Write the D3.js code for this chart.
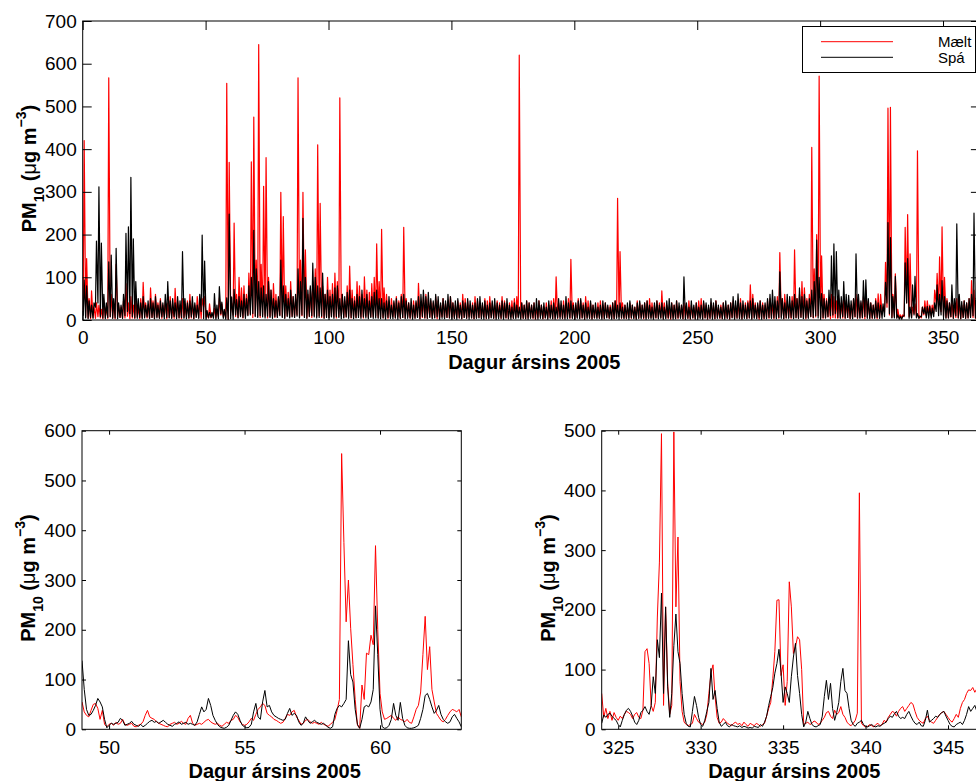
<!DOCTYPE html>
<html>
<head>
<meta charset="utf-8">
<script src="https://cdn.jsdelivr.net/npm/d3@7"></script>
<style>
  body { margin: 0; background: #fff; }
  svg { display: block; font-family: "Liberation Sans", Arial, Helvetica, sans-serif; }
</style>
</head>
<body>
<svg width="976" height="781"></svg>
<script>
// Ársyfirlit: dagleg hámörk (Hi) og lággildi (Lo), dagar 0..364
const maeltHi = [
  420,144,50,68,30,40,35,25,45,30, 567,60,40,130,35,30,45,85,40,55,
  35,45,30,50,88,40,35,75,45,60, 40,50,35,45,40,55,30,74,45,35,
  50,30,45,60,40,35,55,45,50,55, 12,38,14,28,24,52,38,20,554,369,
  40,227,60,100,75,80,60,110,370,475, 140,645,130,313,380,100,70,85,60,50,
  299,242,80,65,90,55,50,567,140,299, 164,60,75,90,120,410,273,80,60,100,
  70,85,110,90,520,60,45,80,126,70, 55,90,80,60,101,70,65,85,100,178,
  90,212,75,60,45,50,40,55,45,60, 217,50,40,35,45,40,86,40,55,60,
  50,45,40,55,45,35,50,40,45,55, 40,35,45,40,60,50,45,35,40,55,
  45,40,35,50,45,55,40,35,45,40, 55,45,35,40,45,50,55,620,40,35,
  45,40,35,40,30,45,35,30,40,35, 45,50,101,40,35,45,35,50,142,40,
  35,50,45,40,55,45,40,35,30,40, 45,35,40,30,35,40,45,285,160,40,
  35,30,40,35,30,45,40,35,40,45, 50,40,35,45,40,68,40,35,30,40,
  35,45,30,35,40,30,45,35,30,40, 45,50,40,35,30,40,35,45,30,35,
  40,30,35,40,45,35,40,50,35,40, 45,82,60,40,35,45,40,35,45,50,
  40,45,55,158,50,60,45,40,55,164, 50,60,90,75,50,60,404,120,200,571,
  150,60,50,45,60,55,45,50,40,55, 45,40,35,50,60,45,40,55,70,45,
  40,35,50,61,60,30,135,496,498,60, 108,25,12,12,217,247,155,30,38,396,
  10,30,45,45,35,35,70,109,148,218, 100,50,40,45,35,50,40,35,45,40,
  50,92,70,45,50
];
const maeltLo = [
  20,8,5,3,6,4,8,5,3,6, 4,7,5,3,8,6,4,5,9,3,
  5,4,7,3,6,8,5,4,6,3, 7,5,4,8,3,6,5,4,7,5,
  3,6,8,4,5,3,7,5,4,30, 8,5,5,8,5,8,12,8,5,2,
  18,12,8,6,10,5,8,12,15,6, 10,8,6,12,9,5,8,10,6,7,
  12,8,5,10,7,9,6,12,8,10, 7,5,9,6,11,8,10,6,5,8,
  6,9,7,5,8,10,6,7,9,5, 8,6,10,7,5,9,6,8,7,10,
  6,8,5,7,4,6,8,5,7,4, 6,5,8,4,6,5,7,3,6,5,
  4,7,5,6,3,5,8,4,6,5, 7,4,6,5,3,6,4,7,5,3,
  5,6,4,7,3,5,6,4,5,7, 4,6,5,3,7,4,6,8,5,4,
  3,5,6,4,2,5,7,3,5,4, 6,3,5,4,7,3,5,6,4,5,
  3,6,4,5,2,6,4,3,5,6, 4,5,3,6,4,5,3,6,8,4,
  5,3,6,4,5,3,4,6,3,5, 4,6,3,5,4,6,3,5,4,2,
  5,3,4,6,3,5,4,2,5,3, 4,6,3,5,2,4,6,3,5,4,
  3,5,4,2,6,3,5,4,3,6, 4,5,3,6,4,2,5,3,6,4,
  5,3,6,4,7,3,5,6,4,5, 6,4,7,5,3,6,8,5,7,10,
  6,4,5,7,3,6,5,4,6,5, 4,6,3,5,7,4,6,5,3,6,
  5,4,6,3,5,15,18,30,12,6, 8,6,4,5,8,40,8,6,15,6,
  4,5,12,10,12,10,15,40,25,20, 10,6,5,7,4,6,5,3,6,4,
  5,8,6,4,5
];
const spaHi = [
  94,80,45,35,40,185,312,180,60,40, 136,152,50,168,40,35,60,203,218,334,
  190,90,50,40,55,35,45,50,40,55, 35,45,40,60,90,45,50,40,55,45,
  160,50,40,45,55,40,35,60,199,138, 22,18,18,62,35,78,42,25,52,248,
  54,72,48,55,45,60,50,80,100,210, 120,90,75,80,60,90,70,50,45,55,
  140,80,60,50,70,55,60,120,90,238, 100,70,80,133,100,80,75,110,60,70,
  55,60,75,80,50,60,55,65,70,50, 45,60,55,70,50,60,45,55,65,70,
  50,50,40,45,55,35,45,50,40,55, 60,45,40,50,35,45,55,60,70,55,
  65,50,45,60,55,40,50,45,60,55, 40,45,50,35,45,40,50,45,35,40,
  50,55,40,45,35,40,45,50,40,35, 45,40,50,35,30,40,35,30,40,35,
  45,40,35,40,50,45,35,40,30,45, 35,40,30,50,45,35,55,40,45,35,
  40,45,50,35,40,30,45,35,40,30, 35,45,40,35,30,40,45,35,40,30,
  35,40,45,35,30,40,45,35,40,45, 35,30,40,45,35,40,30,45,50,40,
  35,45,40,35,101,40,30,45,35,40, 30,35,45,40,35,50,40,45,35,30,
  40,45,35,40,55,45,61,40,45,35, 40,45,50,35,40,45,35,40,50,60,
  70,55,45,113,50,40,60,55,45,60, 50,75,55,60,45,50,70,90,187,100,
  62,50,45,70,150,178,160,70,55,90, 60,58,45,50,155,60,45,92,94,50,
  40,35,45,40,35,38,88,228,193,55, 102,12,8,8,134,144,30,82,102,15,
  8,30,30,32,32,28,40,82,60,92, 55,45,40,82,50,225,60,43,45,40,
  50,60,250,50,45
];
const spaLo = [
  10,5,3,6,4,30,40,8,5,3, 6,8,4,5,3,6,4,10,20,15,
  8,5,4,6,3,5,7,4,6,3, 5,4,7,3,6,5,4,8,3,5,
  6,4,3,5,7,3,6,4,20,3, 4,5,6,4,2,3,15,4,2,2,
  3,2,12,5,8,6,4,10,12,15, 8,6,10,7,5,9,6,4,8,6,
  10,6,4,8,5,7,6,9,5,12, 6,4,8,10,7,5,6,9,4,6,
  5,7,4,8,6,3,5,7,4,6, 3,5,6,4,7,5,3,6,4,5,
  4,3,5,2,6,4,3,5,2,4, 6,3,4,5,2,4,6,3,8,5,
  4,6,3,5,7,2,4,3,6,5, 3,4,2,5,3,6,4,2,5,3,
  4,5,3,2,4,3,5,4,2,3, 4,2,5,3,2,4,3,5,2,4,
  3,2,4,5,3,2,4,3,5,2, 4,3,2,5,3,4,2,3,5,4,
  2,4,3,5,2,3,4,2,5,3, 4,2,3,5,4,2,3,4,2,5,
  3,4,2,5,3,2,4,3,5,2, 4,3,2,5,3,4,2,3,5,4,
  2,3,5,4,3,2,4,3,5,2, 4,3,2,5,3,4,2,3,4,5,
  3,2,4,3,5,2,4,3,2,4, 3,5,2,4,3,5,2,4,3,6,
  4,5,3,6,4,3,5,4,6,3, 5,4,6,3,5,4,8,6,10,5,
  4,6,5,8,10,12,15,6,4,8, 5,6,4,3,8,5,4,6,8,4,
  3,5,4,6,4,4,8,40,15,5, 5,4,2,2,10,40,4,5,12,5,
  4,8,15,5,4,4,8,20,10,12, 6,4,5,8,4,10,5,3,6,4,
  5,6,10,5,4
];

// Dagar 49-63, tveggja tíma gildi
const leftStart = 49, leftStep = 1 / 12;
const spaLeft = [
  138,80,40,28,30,38,48,62,55,45,20,3,
  8,12,10,12,14,22,18,8,10,12,16,10,
  8,6,10,5,8,12,16,18,14,16,12,15,
  18,14,10,8,6,10,12,15,10,12,14,10,
  12,10,8,15,30,45,35,40,62,48,28,18,
  10,5,3,2,4,8,18,28,35,30,18,8,
  5,3,4,10,35,52,25,20,55,78,45,48,
  35,28,25,22,20,18,20,32,42,28,32,28,
  15,8,12,25,18,12,15,18,14,12,10,12,
  8,4,2,5,30,42,48,45,52,60,178,110,
  95,40,10,2,20,45,48,45,55,80,248,150,
  40,5,2,3,8,20,52,28,18,54,22,8,
  3,2,2,3,5,8,22,40,68,72,60,45,
  32,38,48,30,20,15,12,15,25,30,22,15,
  5
];
const maeltLeft = [
  55,35,28,25,38,50,52,42,20,38,10,5,
  10,12,8,14,10,12,20,10,8,10,12,6,
  5,8,10,15,28,38,25,22,20,15,12,10,
  8,6,5,10,12,14,10,12,16,12,10,22,
  28,12,8,10,12,10,14,18,20,15,12,10,
  12,8,6,10,14,12,18,20,28,24,15,10,
  8,10,15,22,18,30,40,45,52,48,32,28,
  25,20,18,15,12,14,22,30,28,35,38,25,
  18,10,12,18,20,15,12,14,12,10,14,10,
  8,6,10,14,20,38,60,554,375,216,300,203,
  130,60,8,2,89,60,153,150,189,170,369,200,
  72,35,20,22,25,28,22,18,25,20,18,15,
  20,14,12,25,40,48,75,150,227,120,166,80,
  55,32,25,18,15,20,28,35,40,38,35,40,
  25
];

// Dagar 324-347, þriggja tíma gildi
const rightStart = 324, rightStep = 1 / 8;
const spaRight = [
  10,24,20,25,27,22,18,15,
  8,4,15,25,32,35,30,22,
  12,8,15,28,32,38,30,25,
  40,88,60,150,120,228,60,205,
  71,20,60,140,193,130,110,60,
  25,10,5,4,30,55,40,20,
  8,5,15,30,45,102,50,65,
  35,12,5,8,12,6,4,8,
  6,5,4,6,3,5,4,2,
  3,2,5,4,3,8,5,12,
  22,40,55,70,94,110,134,95,
  45,71,60,45,88,121,144,90,
  60,25,4,12,30,18,8,5,
  4,6,8,22,55,82,50,77,
  35,15,28,45,80,102,65,60,
  35,15,8,5,10,12,15,8,
  5,4,6,8,5,4,6,5,
  8,10,12,18,22,20,26,30,
  22,18,20,18,25,30,22,15,
  10,8,12,6,5,15,32,12,
  15,18,22,20,25,28,30,22,
  15,8,5,4,8,10,12,8,
  15,25,38,30,35,40,30,28,
  25
];
const maeltRight = [
  60,20,35,18,30,15,28,20,
  15,22,18,25,30,28,25,18,
  25,28,20,18,32,130,135,110,
  40,30,45,188,280,495,40,205,
  77,25,40,498,205,322,80,30,
  12,8,6,8,10,25,18,12,
  10,8,12,25,60,94,108,55,
  20,10,12,18,14,10,8,6,
  10,12,8,10,6,12,8,5,
  10,8,6,10,8,5,8,10,
  22,35,45,85,130,216,217,90,
  108,40,80,247,205,127,138,155,
  150,100,8,10,12,8,10,14,
  12,8,10,15,20,28,30,22,
  18,32,25,28,38,25,20,12,
  8,6,10,15,27,396,10,6,
  4,5,8,6,4,8,10,6,
  8,15,12,20,25,30,28,22,
  30,35,38,30,35,40,45,42,
  30,20,15,12,10,18,22,15,
  12,10,15,20,25,28,30,25,
  20,15,12,18,25,20,35,45,
  50,60,66,65,70,62,68,60,
  58
];

const topXTicks = [0, 50, 100, 150, 200, 250, 300, 350];
const topYTicks = [0, 100, 200, 300, 400, 500, 600, 700];
const leftXTicks = [50, 55, 60];
const leftYTicks = [0, 100, 200, 300, 400, 500, 600];
const rightXTicks = [325, 330, 335, 340, 345];
const rightYTicks = [0, 100, 200, 300, 400, 500];
const legendLabels = ["Mælt", "Spá"];
const xLabel = "Dagur ársins 2005";

const svg = d3.select("svg");
let clipCount = 0;

// tvö gildi á dag: lággildi og hámark
function dailyPoints(hi, lo) {
  const pts = [];
  hi.forEach((v, d) => {
    pts.push([d + 0.2, lo[d]]);
    pts.push([d + 0.6, v]);
  });
  return pts;
}
function stepPoints(vals, start, step) {
  return vals.map((v, i) => [start + i * step, v]);
}

function drawPanel(o) {
  const x = d3.scaleLinear().domain(o.xDom).range([o.left, o.right]);
  const y = d3.scaleLinear().domain(o.yDom).range([o.bottom, o.top]);
  const g = svg.append("g");

  const id = "clip" + (clipCount++);
  svg.append("clipPath").attr("id", id)
    .append("rect")
    .attr("x", o.left).attr("y", o.top)
    .attr("width", o.right - o.left).attr("height", o.bottom - o.top);

  const line = d3.line().x(d => x(d[0])).y(d => y(d[1]));
  const lines = g.append("g").attr("clip-path", `url(#${id})`);
  o.series.forEach(s => {
    lines.append("path")
      .attr("d", line(s.pts))
      .attr("fill", "none")
      .attr("stroke", s.color)
      .attr("stroke-width", o.lineWidth)
      .attr("stroke-linejoin", "round");
  });

  const axes = [
    { ax: d3.axisBottom(x).tickValues(o.xTicks).tickPadding(11), tr: `translate(0,${o.bottom})`, labels: true },
    { ax: d3.axisTop(x).tickValues(o.xTicks), tr: `translate(0,${o.top})`, labels: false },
    { ax: d3.axisLeft(y).tickValues(o.yTicks).tickPadding(6), tr: `translate(${o.left},0)`, labels: true },
    { ax: d3.axisRight(y).tickValues(o.yTicks), tr: `translate(${o.right},0)`, labels: false }
  ];
  axes.forEach(a => {
    const ag = g.append("g").attr("transform", a.tr)
      .call(a.ax.tickSizeInner(-o.tick).tickSizeOuter(0));
    ag.select(".domain").remove();
    ag.attr("font-size", 19).attr("font-family", null);
    ag.selectAll("line").attr("stroke", "#000");
    if (!a.labels) ag.selectAll("text").remove();
    else ag.selectAll("text").attr("fill", "#000");
  });

  g.append("rect")
    .attr("x", o.left).attr("y", o.top)
    .attr("width", o.right - o.left).attr("height", o.bottom - o.top)
    .attr("fill", "none").attr("stroke", "#000").attr("stroke-width", 1);

  // x-ás titill
  g.append("text")
    .attr("x", (o.left + o.right) / 2 + 3)
    .attr("y", o.bottom + 49)
    .attr("text-anchor", "middle")
    .attr("font-size", 20).attr("font-weight", "bold")
    .text(xLabel);

  // y-ás titill: PM10 (µg m-3)
  const yl = g.append("text")
    .attr("transform", `translate(${o.left - 47},${(o.top + o.bottom) / 2 - 2}) rotate(-90)`)
    .attr("text-anchor", "middle")
    .attr("font-size", 20).attr("font-weight", "bold");
  yl.append("tspan").text("PM");
  yl.append("tspan").attr("font-size", 14).attr("dy", 8).text("10");
  yl.append("tspan").attr("dy", -8).text(" (");
  yl.append("tspan").attr("font-weight", "normal").text("\u03bc");
  yl.append("tspan").text("g m");
  yl.append("tspan").attr("font-size", 14).attr("dy", -10).text("\u22123");
  yl.append("tspan").attr("dy", 10).text(")");

  return { x, y, g };
}

drawPanel({
  left: 82.7, right: 979.9, top: 21, bottom: 320,
  xDom: [0, 365], yDom: [0, 700],
  xTicks: topXTicks, yTicks: topYTicks, tick: 9, lineWidth: 1.2,
  series: [
    { pts: dailyPoints(maeltHi, maeltLo), color: "#ff0000" },
    { pts: dailyPoints(spaHi, spaLo), color: "#000000" }
  ]
});

drawPanel({
  left: 82, right: 461.3, top: 430.7, bottom: 729.3,
  xDom: [49, 63], yDom: [0, 600],
  xTicks: leftXTicks, yTicks: leftYTicks, tick: 4, lineWidth: 1,
  series: [
    { pts: stepPoints(maeltLeft, leftStart, leftStep), color: "#ff0000" },
    { pts: stepPoints(spaLeft, leftStart, leftStep), color: "#000000" }
  ]
});

drawPanel({
  left: 601.7, right: 981, top: 430.7, bottom: 729.3,
  xDom: [324, 347], yDom: [0, 500],
  xTicks: rightXTicks, yTicks: rightYTicks, tick: 4, lineWidth: 1,
  series: [
    { pts: stepPoints(maeltRight, rightStart, rightStep), color: "#ff0000" },
    { pts: stepPoints(spaRight, rightStart, rightStep), color: "#000000" }
  ]
});

// skýringar
const leg = svg.append("g");
leg.append("rect")
  .attr("x", 802.5).attr("y", 26.5).attr("width", 173).attr("height", 46)
  .attr("fill", "#fff").attr("stroke", "#000").attr("stroke-width", 1);
["#ff0000", "#000000"].forEach((c, i) => {
  const ly = 41.7 + i * 15.6;
  leg.append("line")
    .attr("x1", 821).attr("x2", 893).attr("y1", ly).attr("y2", ly)
    .attr("stroke", c).attr("stroke-width", 1);
  leg.append("text")
    .attr("x", 938).attr("y", ly).attr("dy", "0.35em")
    .attr("font-size", 15)
    .text(legendLabels[i]);
});
</script>
</body>
</html>
